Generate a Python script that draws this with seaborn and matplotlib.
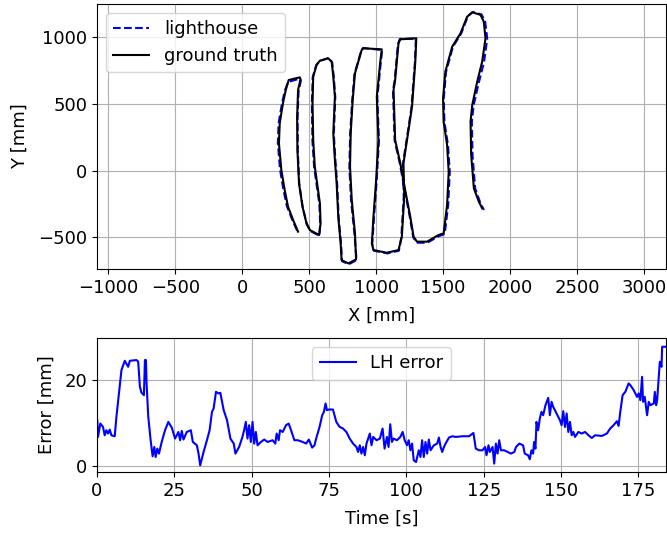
import matplotlib
matplotlib.use("Agg")
import matplotlib.pyplot as plt
from matplotlib.ticker import MultipleLocator
import seaborn as sns

plt.rcParams["font.size"] = 13

# Trajectory in the XY plane [mm]
gt_x = [417, 380, 342, 317, 292, 274, 280, 304, 325, 347, 430,
        435, 417, 410, 412, 424, 450, 480, 505, 574,
        585, 580, 542, 530, 525, 530, 555, 580, 642, 668,
        680, 692, 680, 692, 705, 717, 735, 742, 792, 850,
        842, 818, 805, 810, 825, 842, 892, 905, 1042,
        1030, 1005, 1017, 1000, 980, 968, 980, 1080, 1167,
        1192, 1210, 1204, 1242, 1268, 1292, 1300, 1180,
        1167, 1142, 1130, 1142, 1180, 1217, 1255, 1280, 1305, 1380, 1467, 1504,
        1530, 1542, 1530, 1504, 1500, 1517, 1568, 1630, 1680, 1718, 1780, 1804, 1817,
        1792, 1755, 1718, 1705, 1710, 1730, 1767, 1792]
gt_y = [-457, -370, -270, -145, 5, 205, 355, 505, 605, 680, 700,
        685, 605, 405, 155, -95, -270, -395, -445, -482,
        -395, -245, 30, 230, 505, 705, 793, 825, 843, 817,
        705, 555, 280, 80, -95, -345, -545, -670, -695, -665,
        -470, -220, 30, 280, 530, 730, 905, 918, 910,
        808, 555, 230, -70, -345, -545, -595, -615, -595,
        -495, -195, 55, 305, 480, 808, 993, 985,
        955, 680, 605, 230, 58, -145, -345, -495, -532, -532, -482, -470,
        -257, -8, 193, 368, 543, 743, 930, 1030, 1155, 1188, 1168, 1118, 993,
        818, 668, 493, 368, 118, -132, -232, -282]

lh_x = [410, 372, 333, 307, 282, 266, 272, 297, 318, 342, 428,
        438, 421, 413, 415, 426, 452, 482, 508, 576,
        582, 576, 537, 524, 520, 526, 552, 578, 645, 672,
        684, 695, 684, 696, 709, 720, 738, 745, 795, 854,
        838, 813, 800, 806, 821, 838, 889, 902, 1045,
        1034, 1009, 1021, 1004, 984, 971, 983, 1083, 1170,
        1188, 1206, 1200, 1238, 1264, 1289, 1297, 1177,
        1163, 1138, 1126, 1138, 1177, 1214, 1252, 1277, 1303, 1382, 1470, 1512,
        1538, 1550, 1537, 1510, 1505, 1522, 1573, 1636, 1686, 1724, 1787, 1814, 1830,
        1806, 1768, 1728, 1715, 1720, 1740, 1778, 1805]
lh_y = [-450, -365, -265, -140, 10, 210, 360, 505, 600, 665, 690,
        675, 600, 400, 150, -100, -275, -400, -452, -488,
        -400, -250, 25, 225, 500, 700, 790, 822, 845, 812,
        700, 550, 275, 75, -100, -350, -550, -678, -702, -670,
        -475, -225, 25, 275, 525, 725, 900, 920, 905,
        805, 550, 225, -75, -350, -550, -600, -620, -600,
        -500, -200, 50, 300, 475, 805, 990, 988,
        950, 675, 600, 225, 55, -150, -350, -500, -540, -540, -490, -475,
        -260, -10, 190, 365, 540, 740, 928, 1030, 1160, 1190, 1172, 1120, 990,
        815, 665, 490, 365, 115, -135, -240, -295]

# Position error of the lighthouse estimate over time
time_s = [0.1, 0.33, 1.08, 1.95, 2.49, 3.03, 3.57, 4.12, 4.66, 5.74, 6.28, 7.15, 7.91,
          8.99, 10.07, 10.62, 12.78, 13.32, 13.87, 14.41, 15.17, 15.49, 15.82, 16.03,
          16.58, 17.34, 17.98, 18.52, 18.96, 19.5, 20.04, 20.91, 22.0, 23.07, 24.16,
          25.24, 26.32, 26.86, 27.41, 27.95, 29.03, 30.33, 30.98, 32.28, 32.82, 33.36,
          34.45, 35.53, 36.4, 37.16, 37.7, 38.46, 39.32, 39.87, 40.95, 42.03, 43.12,
          44.2, 44.74, 45.93, 47.01, 47.55, 48.1, 48.64, 49.18, 49.72, 50.27, 50.81,
          51.35, 51.89, 52.98, 54.06, 55.14, 56.77, 57.63, 58.07, 58.72, 59.15, 60.02,
          61.1, 61.96, 62.72, 63.8, 64.89, 66.51, 67.6, 68.46, 69.54, 70.3, 70.84,
          71.93, 72.79, 73.34, 73.88, 74.31, 74.96, 76.26, 77.35, 78.43, 79.51, 80.6,
          81.68, 82.76, 83.85, 84.39, 84.93, 85.47, 86.01, 86.56, 87.1, 87.64, 88.18,
          88.72, 89.27, 90.35, 91.43, 92.3, 92.95, 93.7, 94.24, 94.78, 95.32, 95.86,
          96.95, 98.03, 98.79, 99.44, 100.2, 100.75, 101.29, 101.83, 102.37, 103.13,
          104.0, 104.54, 105.08, 105.62, 106.17, 106.71, 107.25, 107.79, 108.88,
          109.96, 110.5, 111.05, 111.59, 112.13, 112.67, 113.76, 114.84, 115.92,
          118.09, 120.26, 121.66, 122.42, 123.5, 124.59, 125.45, 125.89, 126.54,
          126.97, 127.84, 128.38, 128.92, 129.46, 130.0, 130.55, 131.63, 132.71,
          133.8, 134.88, 135.42, 136.5, 137.7, 138.25, 139.33, 139.87, 140.41, 140.95,
          141.28, 141.71, 142.04, 142.58, 143.12, 143.66, 144.2, 144.96, 145.83,
          146.37, 146.91, 147.45, 148.54, 149.62, 150.16, 150.7, 151.25, 151.79,
          152.33, 152.87, 153.41, 153.95, 154.5, 155.58, 156.66, 157.75, 158.83,
          159.91, 161.0, 163.16, 164.79, 165.87, 166.95, 168.04, 168.58, 169.12,
          169.88, 170.75, 171.83, 172.37, 173.46, 174.54, 175.08, 175.62, 176.17,
          176.49, 177.03, 177.79, 178.33, 178.87, 179.96, 180.28, 180.72, 181.04,
          181.58, 181.9, 182.45, 182.66, 183.9]
error_mm = [10.67, 6.77, 9.89, 9.1, 7.16, 8.33, 7.56, 8.49, 7.16, 6.93, 11.44, 17.27, 22.33,
            24.5, 23.1, 24.5, 24.67, 24.3, 18.44, 17.04, 16.5, 24.67, 24.67, 19.23,
            11.44, 6.0, 2.26, 4.43, 2.1, 4.06, 2.89, 5.6, 8.33, 10.27, 8.96,
            6.39, 7.93, 6.0, 8.17, 6.16, 7.93, 8.33, 5.6, 4.83, 2.89, 0.16,
            3.27, 6.0, 8.33, 12.6, 13.4, 17.27, 16.9, 17.04, 13.0, 10.67, 6.39,
            5.22, 2.89, 4.43, 6.77, 8.33, 10.27, 6.39, 9.5, 5.6, 10.27, 5.22,
            7.93, 4.83, 5.6, 6.16, 5.6, 6.0, 5.22, 7.56, 6.0, 8.33, 7.93,
            9.5, 9.89, 8.33, 6.0, 6.0, 5.6, 5.22, 6.16, 4.29, 4.83, 6.39,
            9.1, 11.83, 12.6, 14.56, 13.0, 13.16, 13.16, 10.27, 9.1, 8.73, 7.93,
            6.39, 5.22, 4.43, 3.27, 4.83, 2.89, 4.43, 2.5, 5.22, 6.39, 7.56,
            4.83, 6.77, 6.0, 6.39, 8.73, 4.06, 6.77, 4.43, 9.73, 5.6, 6.39,
            6.0, 6.77, 7.93, 6.0, 4.83, 6.0, 3.66, 5.22, 1.33, 0.93,
            3.66, 2.1, 6.0, 2.1, 5.6, 2.89, 6.16, 3.66, 4.83,
            5.22, 6.63, 4.43, 3.27, 4.43, 5.22, 6.63, 6.93, 6.77,
            6.93, 6.93, 7.7, 4.06, 3.66, 3.66, 4.43, 2.5, 4.83,
            3.27, 4.43, 0.56, 5.22, 2.89, 6.0, 3.66, 3.66, 3.27,
            2.89, 3.27, 4.43, 5.22, 4.83, 2.89, 2.5, 1.56, 3.66, 2.89,
            5.6, 4.06, 10.27, 8.33, 11.06, 12.6, 11.83, 14.17, 15.87,
            11.83, 14.94, 13.77, 12.23, 10.67, 9.5, 12.77, 9.1, 12.23,
            7.93, 10.27, 7.16, 7.93, 6.77, 7.93, 7.56, 7.93, 7.16,
            6.53, 7.16, 7.0, 7.56, 8.73, 9.5, 10.43, 9.33, 12.6,
            16.5, 17.27, 19.23, 18.83, 17.67, 16.1, 16.9, 15.33, 20.77,
            14.94, 16.1, 11.83, 14.94, 14.17, 14.56, 17.27, 14.17, 15.33,
            21.17, 24.27, 23.1, 27.77, 27.77]

fig = plt.figure(figsize=(6.67, 5.33), dpi=100)
ax_xy = fig.add_axes([0.1454, 0.4953, 0.8531, 0.4972])
ax_err = fig.add_axes([0.1454, 0.1144, 0.8531, 0.2514])

# XY trajectories
sns.lineplot(x=lh_x, y=lh_y, sort=False, estimator=None, ax=ax_xy,
             color="blue", linestyle="--", linewidth=1.5, label="lighthouse")
sns.lineplot(x=gt_x, y=gt_y, sort=False, estimator=None, ax=ax_xy,
             color="black", linewidth=1.5, label="ground truth")
ax_xy.set_xlim(-1085, 3165)
ax_xy.set_ylim(-737, 1250)
ax_xy.xaxis.set_major_locator(MultipleLocator(500))
ax_xy.yaxis.set_major_locator(MultipleLocator(500))
ax_xy.set_xlabel("X [mm]", labelpad=7)
ax_xy.set_ylabel("Y [mm]", labelpad=7)
ax_xy.grid(True)
ax_xy.legend(loc="upper left")

# Error over time
sns.lineplot(x=time_s, y=error_mm, sort=False, estimator=None, ax=ax_err,
             color="blue", linewidth=1.5, label="LH error")
ax_err.set_xlim(time_s[0] - 0.1, time_s[-1])
ax_err.set_ylim(-1.4, 29.8)
ax_err.xaxis.set_major_locator(MultipleLocator(25))
ax_err.yaxis.set_major_locator(MultipleLocator(20))
ax_err.set_xlabel("Time [s]", labelpad=7)
ax_err.set_ylabel("Error [mm]", labelpad=6)
ax_err.grid(True)
ax_err.legend(loc="upper center")

fig.savefig("out.png", dpi=100)
